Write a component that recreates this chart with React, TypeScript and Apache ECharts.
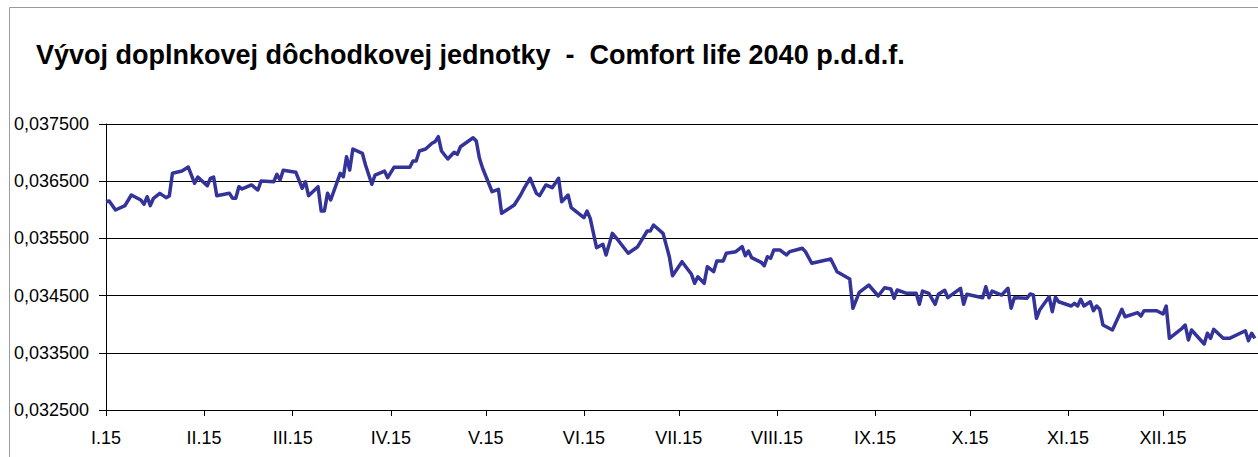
import React, { useEffect, useRef } from "react";
import * as echarts from "echarts";

const titleText =
  "Vývoj doplnkovej dôchodkovej jednotky\u00a0\u00a0-\u00a0\u00a0Comfort life 2040 p.d.d.f.";

// calendar day offsets (from 1 Jan 2015) where months start, and their labels
const monthStarts = [0, 31, 59, 90, 120, 151, 181, 212, 243, 273, 304, 334];
const monthLabels = [
  "I.15", "II.15", "III.15", "IV.15", "V.15", "VI.15",
  "VII.15", "VIII.15", "IX.15", "X.15", "XI.15", "XII.15",
];
const dayCount = 365;

// y axis
const yMin = 0.0325;
const yMax = 0.0375;
const yStep = 0.001;

// observations: day of year (0 = 1 Jan) and unit value
const days = [
  0, 1, 3, 6, 8, 11, 12, 13, 14, 15, 17, 19, 20, 21, 24, 26, 28, 29, 32, 33,
  34, 35, 39, 40, 41, 42, 43, 46, 48, 49, 53, 54, 55, 56, 60, 62, 63, 64, 67, 68,
  69, 70, 71, 74, 75, 76, 77, 78, 81, 82, 84, 85, 88, 89, 91, 96, 97, 98, 99, 101,
  103, 104, 105, 106, 108, 110, 111, 112, 116, 117, 118, 119, 122, 124, 125, 129, 131, 132, 134, 136,
  137, 139, 141, 143, 144, 146, 147, 151, 152, 153, 155, 157, 158, 160, 162, 165, 168, 171, 172, 173,
  176, 178, 179, 182, 185, 186, 187, 189, 190, 192, 193, 195, 196, 199, 201, 202, 203, 204, 207, 208,
  209, 210, 211, 213, 215, 216, 218, 220, 221, 223, 229, 231, 235, 236, 238, 241, 244, 246, 248, 249,
  250, 253, 256, 257, 258, 260, 262, 263, 265, 266, 270, 271, 272, 277, 278, 279, 280, 283, 285, 286,
  287, 291, 292, 293, 294, 295, 298, 299, 300, 301, 305, 306, 307, 308, 309, 311, 312, 313, 314, 315,
  318, 321, 322, 326, 327, 328, 332, 334, 335, 336, 340, 341, 342, 343, 347, 348, 349, 350, 353, 355,
  360, 361, 362, 363,
];
const values = [
  0.036142, 0.036154, 0.035997, 0.036072, 0.036259, 0.036171, 0.036096, 0.036229, 0.036072, 0.036201,
  0.036288, 0.036212, 0.036241, 0.036638, 0.036678, 0.036748, 0.036463, 0.036573, 0.036421, 0.036551,
  0.036573, 0.036247, 0.036288, 0.036201, 0.036201, 0.036404, 0.036364, 0.036434, 0.036346, 0.036503,
  0.036491, 0.036621, 0.036521, 0.036691, 0.036656, 0.036376, 0.036491, 0.036247, 0.036404, 0.035979,
  0.035979, 0.036288, 0.036171, 0.036638, 0.036579, 0.036928, 0.036696, 0.037063, 0.036988, 0.036783,
  0.036446, 0.036608, 0.036678, 0.036561, 0.036743, 0.036743, 0.036853, 0.036853, 0.037028, 0.037063,
  0.037163, 0.037191, 0.037278, 0.037028, 0.036888, 0.037005, 0.03697, 0.037103, 0.03726, 0.037203,
  0.0369, 0.036726, 0.036316, 0.036358, 0.035939, 0.036084, 0.036259, 0.036364, 0.036551, 0.036288,
  0.036247, 0.036434, 0.036386, 0.036551, 0.036142, 0.036259, 0.036037, 0.035862, 0.035979, 0.035851,
  0.035337, 0.035397, 0.03521, 0.035589, 0.035455, 0.03524, 0.035355, 0.035629, 0.035629, 0.035734,
  0.035589, 0.03518, 0.034848, 0.035093, 0.034872, 0.034715, 0.03483, 0.034715, 0.035005, 0.034918,
  0.035105, 0.035105, 0.03524, 0.035268, 0.035355, 0.035198, 0.03528, 0.035163, 0.035082, 0.035023,
  0.03518, 0.035152, 0.035297, 0.035297, 0.03521, 0.035268, 0.035297, 0.035327, 0.035268, 0.035065,
  0.03514, 0.034918, 0.03479, 0.034278, 0.034558, 0.034685, 0.034493, 0.034638, 0.034615, 0.034453,
  0.034598, 0.03454, 0.03454, 0.034348, 0.03458, 0.03454, 0.034348, 0.034523, 0.034593, 0.034463,
  0.034628, 0.034348, 0.034523, 0.034463, 0.034656, 0.034463, 0.03458, 0.03451, 0.034628, 0.034278,
  0.034463, 0.034453, 0.034528, 0.03451, 0.034103, 0.034248, 0.034481, 0.034219, 0.03447, 0.034393,
  0.034318, 0.034365, 0.034318, 0.034435, 0.034318, 0.034393, 0.034236, 0.034318, 0.03426, 0.033986,
  0.033899, 0.03426, 0.034131, 0.034201, 0.034143, 0.034236, 0.034236, 0.034178, 0.034318, 0.033753,
  0.033928, 0.033986, 0.033724, 0.033899, 0.033654, 0.033841, 0.033753, 0.033911, 0.033753, 0.033753,
  0.033886, 0.033712, 0.033841, 0.033753,
];

const FONT = "'Liberation Sans', Arial, sans-serif";

export default function App() {
  const ref = useRef<HTMLDivElement>(null);

  useEffect(() => {
    if (!ref.current) return;
    const chart = echarts.init(ref.current, undefined, { renderer: "svg" });
    const categories = Array.from({ length: dayCount }, (_, i) => String(i));
    const isMonthStart = (i: number) => monthStarts.indexOf(i) >= 0;

    chart.setOption({
      animation: false,
      backgroundColor: "#ffffff",
      title: {
        text: titleText,
        left: 36,
        top: 41,
        padding: 0,
        textStyle: {
          fontFamily: FONT,
          fontSize: 27,
          fontWeight: "bold",
          color: "#000000",
        },
      },
      graphic: [
        {
          type: "rect",
          shape: { x: 9.5, y: 7.5, width: 1400, height: 600 },
          style: { fill: "none", stroke: "#9a9a9a", lineWidth: 1 },
          silent: true,
        },
      ],
      grid: {
        left: 106,
        right: 0,
        top: 124,
        bottom: 47,
        containLabel: false,
        outerBoundsMode: "none",
      },
      xAxis: {
        type: "category",
        data: categories,
        boundaryGap: false,
        axisLine: { show: true, lineStyle: { color: "#000000", width: 1 } },
        axisTick: {
          show: true,
          interval: (i: number) => isMonthStart(i),
          length: 6,
          lineStyle: { color: "#000000" },
        },
        axisLabel: {
          interval: (i: number) => isMonthStart(i),
          formatter: (_v: string, i: number) => {
            const k = monthStarts.indexOf(i);
            return k >= 0 ? monthLabels[k] : "";
          },
          margin: 19,
          fontFamily: FONT,
          fontSize: 18,
          color: "#000000",
        },
        splitLine: { show: false },
      },
      yAxis: {
        type: "value",
        min: yMin,
        max: yMax,
        interval: yStep,
        axisLine: { show: true, lineStyle: { color: "#000000", width: 1 } },
        axisTick: { show: true, length: 7, lineStyle: { color: "#000000" } },
        axisLabel: {
          formatter: (v: number) => v.toFixed(6).replace(".", ","),
          margin: 17,
          fontFamily: FONT,
          fontSize: 18,
          color: "#000000",
        },
        splitLine: { show: true, lineStyle: { color: "#000000", width: 1 } },
      },
      series: [
        {
          type: "line",
          data: days.map((d, i) => [d, values[i]]),
          showSymbol: false,
          symbol: "none",
          lineStyle: { color: "#333399", width: 3.5, join: "round" },
          itemStyle: { color: "#333399" },
        },
      ],
    });

    return () => chart.dispose();
  }, []);

  return (
    <div
      ref={ref}
      style={{ position: "absolute", left: 0, top: 0, width: 1258, height: 457 }}
    />
  );
}
